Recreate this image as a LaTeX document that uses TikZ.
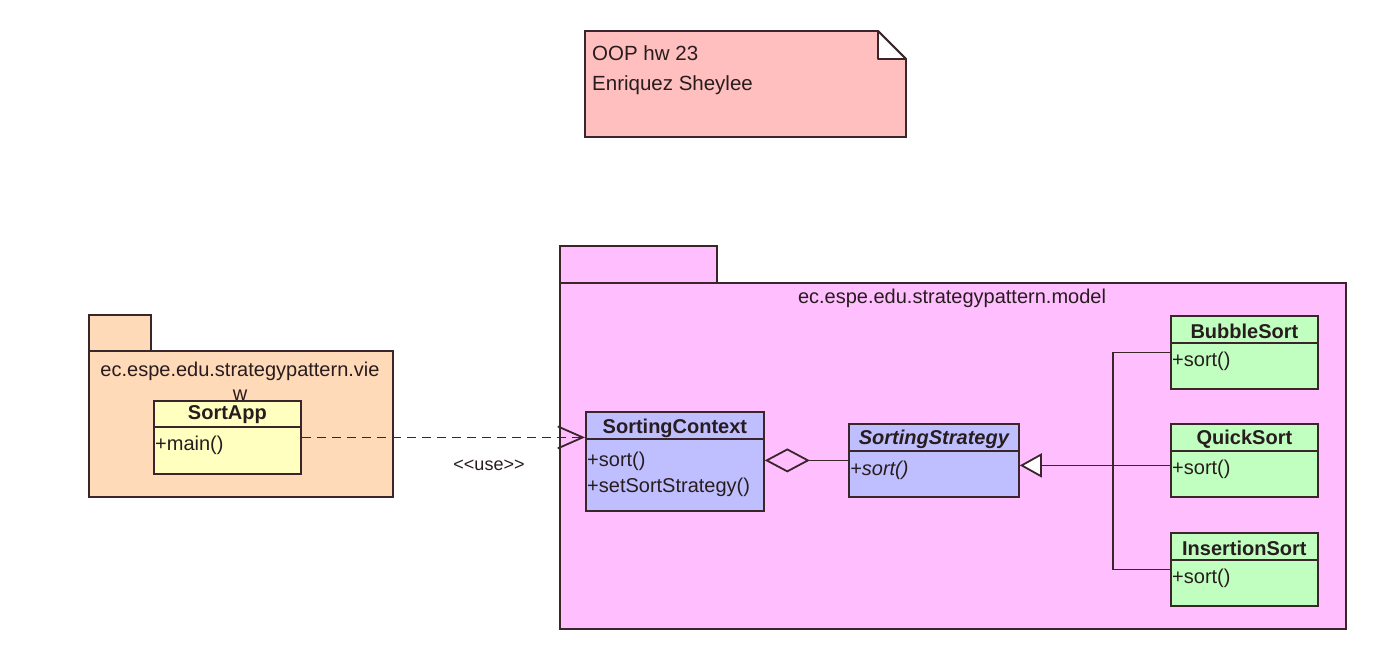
\documentclass[tikz,border=0pt]{standalone}
\usepackage{fontspec}
\setmainfont{Liberation Sans}
\usepackage{tikz}
\usetikzlibrary{
    calc,
    arrows.meta
}
\definecolor{umlline}{RGB}{58,38,42}
\definecolor{umltext}{RGB}{40,28,30}
\definecolor{notefill}{RGB}{255,191,191}
\definecolor{viewfill}{RGB}{255,218,185}
\definecolor{appfill}{RGB}{255,255,192}
\definecolor{modelfill}{RGB}{255,191,255}
\definecolor{ctxfill}{RGB}{191,191,255}
\definecolor{sortfill}{RGB}{192,255,192}
\tikzset{
    umlfont/.style={font=\fontsize{20}{24}\selectfont, text=umltext},
    class box/.style={draw=umlline, line width=1.8pt, rectangle, anchor=north west, inner sep=0pt}
}

\begin{document}
\begin{tikzpicture}[
        x=1pt, y=-1pt,
        pkg/.style={draw=umlline, line width=1.8pt},
        class title/.style={umlfont, font=\fontsize{20}{24}\selectfont\bfseries, inner sep=0pt},
        member/.style={umlfont, anchor=west, inner sep=2pt},
        divider/.style={draw=umlline, line width=1.8pt},
        conn/.style={draw=umlline, line width=1.8pt}
    ]
    \useasboundingbox (0,0) rectangle (1381,663);

    % note
    \draw [pkg, fill=notefill] (585,31) -- (878,31) -- (906,59) -- (906,137) -- (585,137) -- cycle;
    \draw [pkg, fill=white, line join=bevel] (878,31) -- (878,59) -- (906,59) -- cycle;
    \node[umlfont, font=\fontsize{20.5}{30}\selectfont, align=left, anchor=north west, inner sep=0pt]
        (note) at (592,45) {OOP hw 23\\Enriquez Sheylee};

    % view package
    \draw [pkg, fill=viewfill] (89,315) rectangle (151,351);
    \draw [pkg, fill=viewfill] (89,351) rectangle (393,497);
    \node[umlfont, align=center, inner sep=0pt] (viewlabel) at (240,381)
        {ec.espe.edu.strategypattern.vie\\w};

    % model package
    \draw [pkg, fill=modelfill] (560,246) rectangle (717,283);
    \draw [pkg, fill=modelfill] (560,283) rectangle (1346,629);
    \node[umlfont, inner sep=0pt] (modellabel) at (952,298) {ec.espe.edu.strategypattern.model};

    % SortApp
    \node[class box, fill=appfill, minimum width=147pt, minimum height=73pt] (sortapp) at (153,400) {};
    \node[class title] (sortappname) at ($(sortapp.north)+(0,15)$) {SortApp};
    \draw [divider] ($(sortapp.north west)+(0,27)$) -- ($(sortapp.north east)+(0,27)$);
    \node[member] (sortappmain) at ($(sortapp.north west)+(0,45)$) {+main()};

    % SortingContext
    \node[class box, fill=ctxfill, minimum width=178pt, minimum height=99pt] (context) at (585,411) {};
    \node[class title] (contextname) at ($(context.north)+(0,17)$) {SortingContext};
    \draw [divider] ($(context.north west)+(0,28)$) -- ($(context.north east)+(0,28)$);
    \node[member] (contextsort) at ($(context.north west)+(0,50)$) {+sort()};
    \node[member] (contextset) at ($(context.north west)+(0,76)$) {+setSortStrategy()};

    % SortingStrategy
    \node[class box, fill=ctxfill, minimum width=170pt, minimum height=73pt] (strategy) at (848,423) {};
    \node[class title, font=\fontsize{20}{24}\selectfont\bfseries\itshape] (strategyname)
        at ($(strategy.north)+(0,16)$) {SortingStrategy};
    \draw [divider] ($(strategy.north west)+(0,28)$) -- ($(strategy.north east)+(0,28)$);
    \node[member, font=\fontsize{20}{24}\selectfont\itshape] (strategysort)
        at ($(strategy.north west)+(0,47)$) {+sort()};

    % concrete strategies
    \foreach \n/\t/\y in {bubble/BubbleSort/315, quick/QuickSort/423, insertion/InsertionSort/532} {
        \node[class box, fill=sortfill, minimum width=147pt, minimum height=73pt] (\n) at (1170,\y) {};
        \node[class title] (\n name) at ($(\n.north)+(0,16)$) {\t};
        \draw [divider] ($(\n.north west)+(0,28)$) -- ($(\n.north east)+(0,28)$);
        \node[member] (\n sort) at ($(\n.north west)+(0,46)$) {+sort()};
    }

    % use dependency
    \draw [conn, dashed, dash pattern=on 9pt off 6pt,
        -{Straight Barb[length=25pt, width=22pt, line width=1.8pt]}]
        (sortapp.east) -- (sortapp.east -| context.west);
    \node[umlfont, font=\fontsize{18}{20}\selectfont, inner sep=0pt] (uselabel) at (489,465) {{<}{<}use{>}{>}};

    % aggregation
    \draw [conn, -{Diamond[open, length=45pt, width=24pt, line width=1.8pt]}]
        (strategy.west) -- (strategy.west -| context.east);

    % generalization
    \coordinate (quickin) at ($(quick.west)+(0,5)$);
    \draw [conn, -{Triangle[open, fill=white, length=22pt, width=24pt, line width=1.8pt]}]
        (quickin) -- (quickin -| strategy.east);
    \draw [conn] (bubble.west) -- ++(-57,0) |- (insertion.west);

\end{tikzpicture}
\end{document}
